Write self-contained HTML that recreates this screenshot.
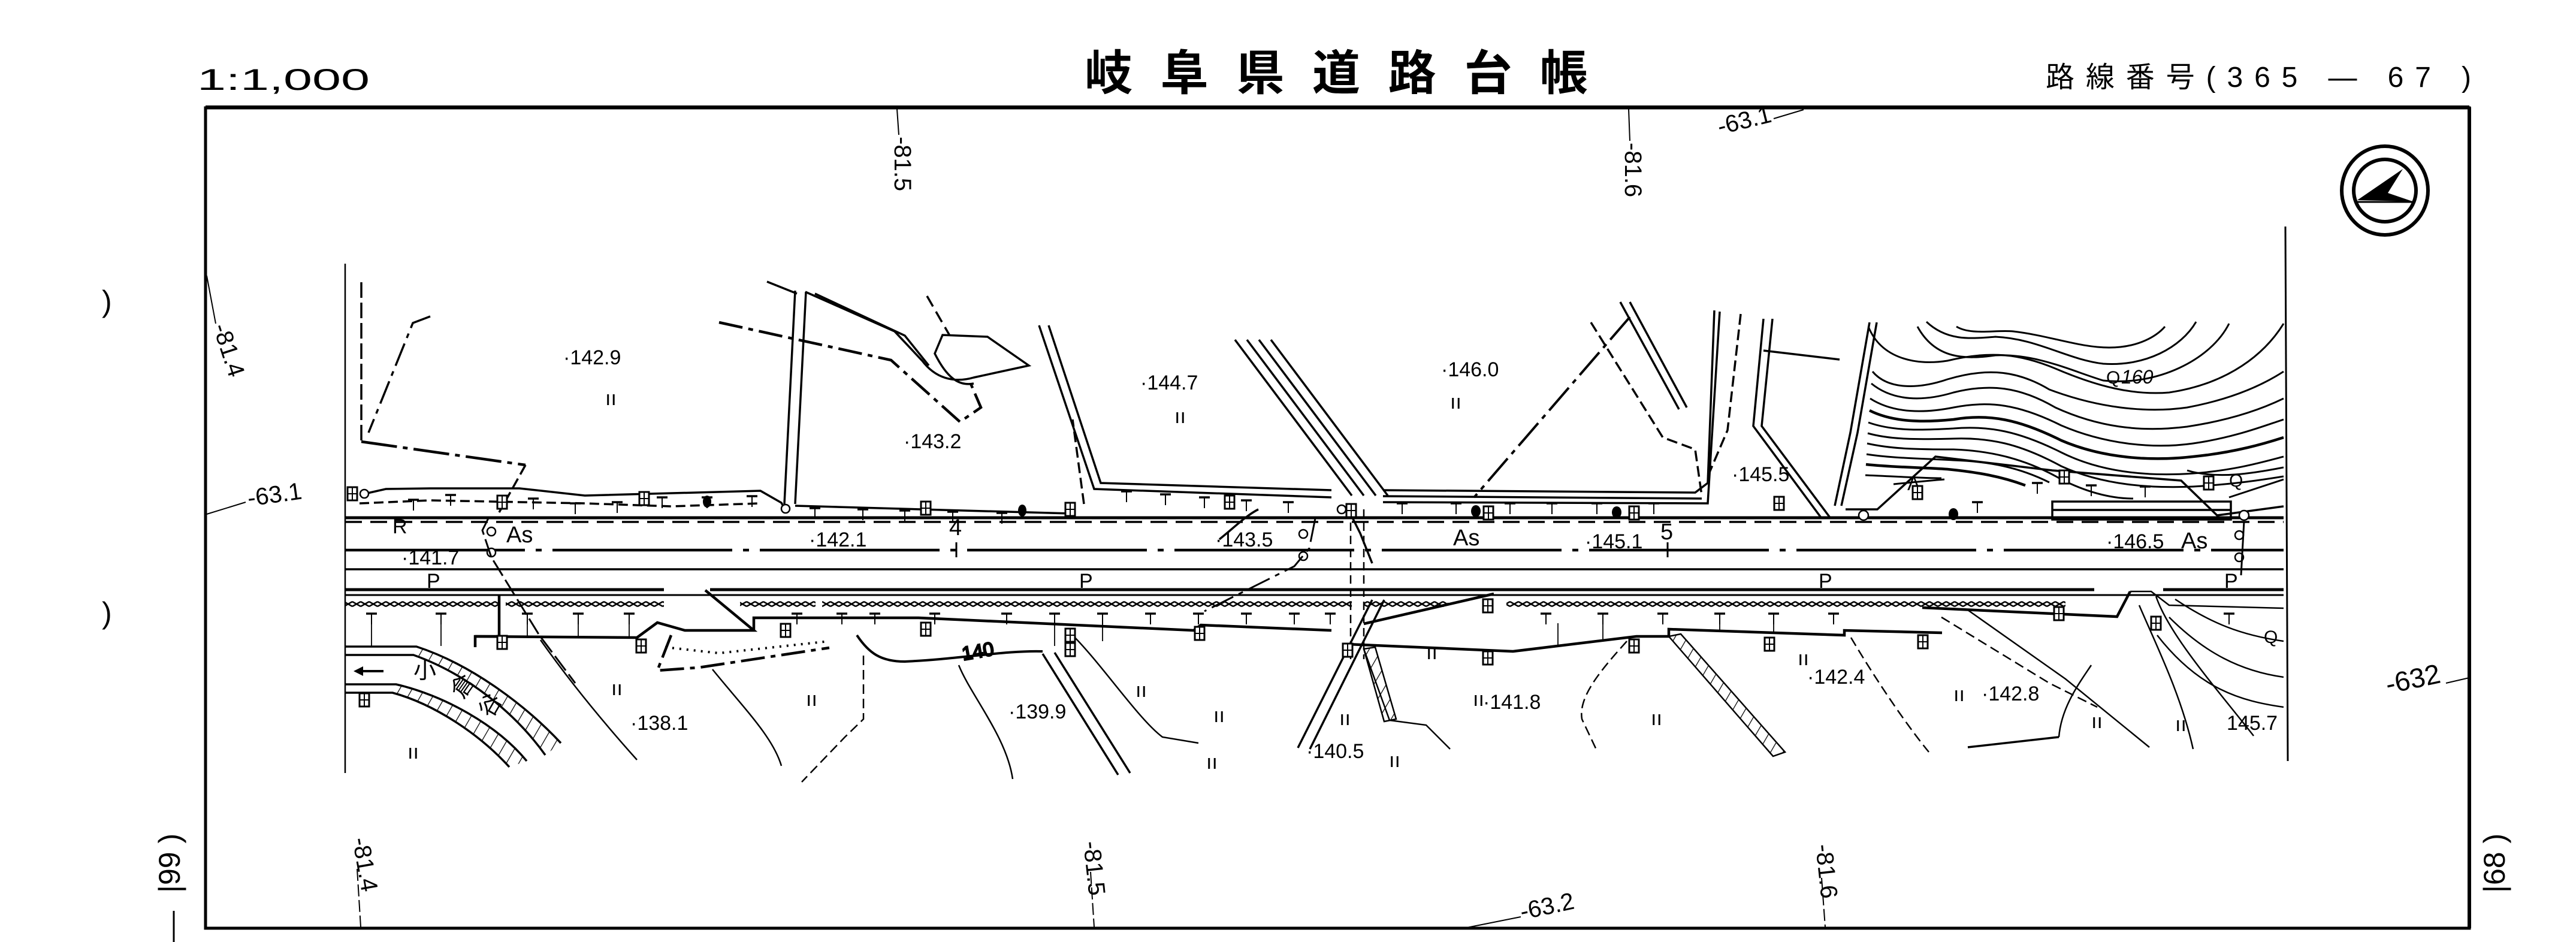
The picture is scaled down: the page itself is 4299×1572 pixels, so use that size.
<!DOCTYPE html>
<html><head><meta charset="utf-8"><style>
html,body{margin:0;padding:0;background:#fff;}
svg{display:block;}
text{font-family:"Liberation Sans","Noto Sans CJK JP",sans-serif;fill:#000;}
</style></head><body>
<svg width="4299" height="1572" viewBox="0 0 4299 1572" xmlns="http://www.w3.org/2000/svg">
<defs>
<pattern id="zz" width="14" height="28" patternUnits="userSpaceOnUse">
<path d="M0,4 L7,0 L14,4 M0,24 L7,28 L14,24" stroke="#000" stroke-width="2.5" fill="none"/>
</pattern>
<pattern id="hatch" width="18" height="18" patternUnits="userSpaceOnUse" patternTransform="rotate(30)">
<line x1="0" y1="0" x2="0" y2="18" stroke="#000" stroke-width="2.5"/>
</pattern>
<g id="bx"><rect x="-8" y="-11" width="16" height="22" fill="#fff" stroke="#000" stroke-width="3"/><line x1="0" y1="-11" x2="0" y2="11" stroke="#000" stroke-width="2"/><line x1="-8" y1="0" x2="8" y2="0" stroke="#000" stroke-width="2"/></g>
<g id="tr"><line x1="-9" y1="0" x2="9" y2="0" stroke="#000" stroke-width="3.5"/><line x1="0" y1="0" x2="0" y2="18" stroke="#000" stroke-width="2"/></g>
</defs>

<text x="329" y="150" font-size="50" textLength="288" lengthAdjust="spacingAndGlyphs">1:1,000</text>
<text x="1810" y="150" font-size="80" font-weight="bold" textLength="840" lengthAdjust="spacing">岐阜県道路台帳</text>
<text x="3414" y="145" font-size="48" textLength="710" lengthAdjust="spacing">路線番号(365 — 67 )</text>

<rect x="343" y="180" width="3778" height="1369" fill="none" stroke="#000" stroke-width="5"/>
<line x1="343" y1="179" x2="4121" y2="179" stroke="#000" stroke-width="6"/>
<line x1="4121" y1="179" x2="4121" y2="1549" stroke="#000" stroke-width="6"/>
<line x1="576" y1="440" x2="576" y2="1290" stroke="#000" stroke-width="2.5"/>
<line x1="3814" y1="378" x2="3818" y2="1270" stroke="#000" stroke-width="3"/>

<ellipse cx="3980" cy="318" rx="72" ry="74" fill="none" stroke="#000" stroke-width="6"/>
<ellipse cx="3980" cy="318" rx="52" ry="52" fill="none" stroke="#000" stroke-width="6"/>
<polygon points="4010,282 3934,334 4026,336 3985,322" fill="#000"/>
<line x1="3930" y1="337" x2="4030" y2="337" stroke="#000" stroke-width="3"/>

<text x="170" y="520" font-size="50">)</text>
<text x="170" y="1040" font-size="50">)</text>
<g transform="translate(300,1490) rotate(-90)"><text font-size="50">|99 )</text></g>
<g transform="translate(4180,1490) rotate(-90)"><text font-size="50">|68 )</text></g>
<line x1="290" y1="1520" x2="290" y2="1572" stroke="#000" stroke-width="3"/>
<line x1="1497" y1="182" x2="1500" y2="225" stroke="#000" stroke-width="2"/>
<g transform="translate(1493,228) rotate(90)"><text font-size="40">-81.5</text></g>
<line x1="2718" y1="182" x2="2720" y2="235" stroke="#000" stroke-width="2"/>
<g transform="translate(2712,238) rotate(90)"><text font-size="40">-81.6</text></g>
<line x1="3010" y1="183" x2="2960" y2="198" stroke="#000" stroke-width="2"/>
<g transform="translate(2870,225) rotate(-14)"><text font-size="40">-63.1</text></g>
<line x1="345" y1="460" x2="360" y2="540" stroke="#000" stroke-width="2"/>
<g transform="translate(355,545) rotate(72)"><text font-size="40">-81.4</text></g>
<line x1="345" y1="858" x2="410" y2="838" stroke="#000" stroke-width="2"/>
<g transform="translate(415,845) rotate(-8)"><text font-size="40">-63.1</text></g>
<g transform="translate(3985,1158) rotate(-12)"><text font-size="46">-632</text></g>
<line x1="4082" y1="1140" x2="4121" y2="1131" stroke="#000" stroke-width="2"/>
<g transform="translate(588,1400) rotate(80)"><text font-size="40">-81.4</text></g>
<line x1="596" y1="1450" x2="602" y2="1547" stroke="#000" stroke-width="2" stroke-dasharray="20,6"/>
<g transform="translate(1808,1405) rotate(84)"><text font-size="40">-81.5</text></g>
<line x1="1820" y1="1455" x2="1826" y2="1547" stroke="#000" stroke-width="2" stroke-dasharray="20,6"/>
<g transform="translate(3030,1410) rotate(84)"><text font-size="40">-81.6</text></g>
<line x1="3040" y1="1465" x2="3046" y2="1547" stroke="#000" stroke-width="2" stroke-dasharray="20,6"/>
<g transform="translate(2540,1535) rotate(-12)"><text font-size="40">-63.2</text></g>
<line x1="2443" y1="1549" x2="2538" y2="1530" stroke="#000" stroke-width="2"/>

<g stroke="#000" fill="none">
<line x1="576" y1="864" x2="3811" y2="864" stroke-width="5"/>
<line x1="576" y1="871" x2="3811" y2="871" stroke-width="3.5" stroke-dasharray="28,14"/>
<line x1="576" y1="918" x2="3811" y2="918" stroke-width="4.5" stroke-dasharray="300,18,10,18"/>
<line x1="576" y1="950" x2="3811" y2="950" stroke-width="3.5"/>
<line x1="576" y1="984" x2="1108" y2="984" stroke-width="5"/>
<line x1="1185" y1="984" x2="3495" y2="984" stroke-width="5"/>
<line x1="3610" y1="984" x2="3811" y2="984" stroke-width="5"/>
<line x1="576" y1="993" x2="3811" y2="993" stroke-width="3"/>
<line x1="1596" y1="905" x2="1596" y2="930" stroke-width="3"/>
<line x1="2783" y1="905" x2="2783" y2="930" stroke-width="3"/>
</g>
<g fill="url(#zz)" stroke="none">
<rect x="576" y="996" width="257" height="26"/>
<rect x="844" y="996" width="264" height="26"/>
<rect x="1235" y="996" width="126" height="26"/>
<rect x="1372" y="996" width="884" height="26"/>
<rect x="2276" y="996" width="141" height="26"/>
<rect x="2514" y="996" width="933" height="26"/>
</g>
<!-- post lines from hedge to wall -->
<g stroke="#000" stroke-width="1.8">
<line x1="620" y1="1040" x2="620" y2="1078"/><line x1="736" y1="1040" x2="736" y2="1078"/><line x1="880" y1="1040" x2="880" y2="1062"/><line x1="965" y1="1040" x2="965" y2="1062"/><line x1="1050" y1="1040" x2="1050" y2="1062"/>
<line x1="1405" y1="1040" x2="1405" y2="1031"/><line x1="1760" y1="1040" x2="1760" y2="1078"/><line x1="1840" y1="1040" x2="1840" y2="1070"/><line x1="2600" y1="1040" x2="2600" y2="1080"/><line x1="2675" y1="1040" x2="2675" y2="1068"/><line x1="2870" y1="1040" x2="2870" y2="1054"/><line x1="2960" y1="1040" x2="2960" y2="1056"/>
</g>

<g stroke="#000" fill="none" stroke-width="4.5">
<polyline points="833,992 833,1062 793,1062 793,1080"/>
<polyline points="793,1062 1063,1064 1097,1039 1143,1052 1258,1052 1177,985"/>
<polyline points="1258,1052 1258,1031 1533,1031 1992,1052 2004,1043 2222,1052"/>
<polyline points="2249,1075 2525,1087 2731,1062 2785,1062 2785,1050 3078,1060 3078,1052 3241,1056"/>
<polyline points="2276,1041 2493,991"/>
<polyline points="3208,1014 3533,1029 3555,987"/>
<polyline points="3555,987 3590,987 3620,1010 3811,1015" stroke-width="2.5"/>
<path d="M576,1079 L695,1079 C790,1110 880,1180 936,1240" stroke-width="3.5"/>
<path d="M576,1093 L690,1093 C780,1125 860,1190 910,1260" stroke-width="3.5"/>
<path d="M576,1142 L661,1142 C740,1160 830,1210 879,1270" stroke-width="3.5"/>
<path d="M576,1156 L655,1156 C725,1175 800,1225 850,1280" stroke-width="3.5"/>
</g>
<path d="M695,1079 C790,1110 880,1180 936,1240 L910,1260 C860,1190 780,1125 690,1093 Z" fill="url(#hatch)"/>
<path d="M661,1142 C740,1160 830,1210 879,1270 L850,1280 C800,1225 725,1175 655,1156 Z" fill="url(#hatch)"/>
<line x1="600" y1="1120" x2="640" y2="1120" stroke="#000" stroke-width="4"/>
<polygon points="590,1120 606,1112 606,1128" fill="#000"/>
<text x="690" y="1132" font-size="38">小</text>
<g transform="translate(772,1168) rotate(-55)"><text font-size="38">倉</text></g>
<g transform="translate(820,1200) rotate(-60)"><text font-size="38">谷</text></g>

<g stroke="#000" fill="none" stroke-width="2.5">
<path d="M902,1068 C960,1150 1020,1220 1063,1268"/>
<path d="M1189,1117 C1240,1180 1290,1230 1304,1278"/>
<path d="M1441,1094 L1441,1200 L1410,1230 L1338,1305" stroke-dasharray="16,8"/>
<path d="M1120,1060 L1097,1119 L1166,1114 L1384,1081" stroke-width="4.5" stroke-dasharray="40,10,8,10"/>
<path d="M1110,1080 L1200,1090 L1384,1070" stroke-dasharray="3,9" stroke-width="4"/>
<path d="M1430,1060 C1450,1090 1470,1104 1510,1104 C1600,1100 1680,1085 1740,1087" stroke-width="4"/>
<text x="1605" y="1098" font-size="32" transform="rotate(-10 1630 1086)">140</text>
<path d="M1740,1091 L1866,1293 M1760,1089 L1886,1290" stroke-width="3.5"/>
<path d="M1600,1110 C1620,1160 1680,1230 1690,1300" />
<path d="M1790,1060 C1840,1110 1900,1200 1940,1230 L2000,1240"/>
<path d="M2290,1001 L2166,1248 M2310,1001 L2186,1250" stroke-width="3.5"/>
<path d="M2254,850 L2254,1100 M2276,850 L2276,1100" stroke-dasharray="14,8"/>
<path d="M2276,1083 L2319,1202 L2380,1210 L2420,1250"/>
<path d="M2715,1070 C2670,1120 2634,1163 2640,1200 L2666,1255" stroke-dasharray="16,8"/>
<path d="M3089,1064 C3140,1150 3190,1220 3219,1255" stroke-dasharray="16,8"/>
<path d="M3284,1018 L3447,1133 L3587,1247"/>
<path d="M3240,1030 L3420,1140 L3500,1180" stroke-dasharray="16,8"/>
<path d="M3436,1230 C3440,1180 3470,1140 3490,1110"/>
<path d="M3598,995 C3620,1060 3700,1150 3761,1228"/>
<path d="M3570,1010 C3600,1080 3640,1160 3660,1250"/>
<path d="M3630,1000 C3690,1040 3740,1060 3811,1070"/>
<path d="M3620,1030 C3680,1090 3740,1120 3811,1130"/>
<path d="M3600,1060 C3670,1150 3740,1170 3811,1180"/>
<path d="M3284,1247 L3436,1230" stroke-width="3.5"/>
</g>
<path d="M2785,1062 L2805,1058 L2979,1255 L2959,1262 Z" fill="url(#hatch)" stroke="#000" stroke-width="2.5"/>
<path d="M2276,1083 L2295,1080 L2330,1200 L2310,1204 Z" fill="url(#hatch)" stroke="#000" stroke-width="2.5"/>

<g stroke="#000" fill="none" stroke-width="3.5">
<path d="M603,471 L603,737" stroke-dasharray="26,8"/>
<path d="M603,737 L877,776" stroke-width="4.5" stroke-dasharray="60,10,8,10"/>
<path d="M877,776 L833,855" stroke-dasharray="18,8"/>
<path d="M718,528 L689,539 L615,722" stroke-dasharray="40,10,8,10"/>
<polyline points="600,826 644,816 718,815 867,815 976,827 1269,819 1304,839 1309,848"/>
<path d="M600,840 L718,835 L976,840 L1120,845 L1269,840" stroke-dasharray="16,8"/>
<path d="M1327,485 L1309,841 M1345,487 L1327,841"/>
<path d="M1280,470 L1330,490 M1344,487 L1493,553 L1539,602 C1560,630 1590,640 1625,630 L1717,610 L1648,562 L1573,559 L1560,590 C1580,630 1600,645 1625,640"/>
<path d="M1360,490 L1510,560 L1550,610"/>
<path d="M1200,538 L1487,601 L1602,704 L1637,680 L1619,638" stroke-dasharray="40,10,8,10" stroke-width="4.5"/>
<path d="M1547,494 L1585,560" stroke-dasharray="20,10"/>
<path d="M1734,543 L1826,816 L2222,830 M1750,543 L1837,806 L2222,818"/>
<path d="M1809,841 L1790,700" stroke-dasharray="18,8"/>
<path d="M2061,567 L2256,827 M2081,567 L2276,827 M2101,567 L2296,827 M2121,567 L2316,827"/>
<path d="M1327,844 L1786,857"/>
<path d="M2308,818 L2829,822 L2850,806 L2861,518 M2308,828 L2840,832 M2308,838 L2850,840 L2870,520"/>
<path d="M2704,504 L2802,683 M2720,504 L2815,680"/>
<path d="M2655,538 L2775,730 L2829,750 L2840,827" stroke-dasharray="18,8"/>
<path d="M2720,529 L2460,830" stroke-dasharray="50,10,8,10" stroke-width="4"/>
<path d="M2943,532 L2926,711 L3040,865 M2958,532 L2940,711 L3055,865"/>
<path d="M3132,538 L3100,722 L3073,844 M3120,538 L3088,722 L3062,844"/>
<path d="M2905,524 L2883,718 L2850,795" stroke-dasharray="18,8"/>
<path d="M2943,585 L3070,600"/>
<path d="M3080,850 L3133,850 L3230,762 L3425,785 L3640,802 L3700,860 L3811,845"/>
<rect x="3425" y="837" width="298" height="30"/>
<line x1="3425" y1="851" x2="3723" y2="851"/>
<path d="M2035,900 C2060,880 2080,860 2100,850" />
<path d="M2290,940 L2270,890 L2255,860"/>
</g>

<g stroke="#000" fill="none" stroke-width="3">
<path d="M3265,545 C3290,560 3330,550 3360,553 C3420,560 3470,580 3520,580 C3570,580 3600,560 3613,545"/>
<path d="M3215,537 C3250,570 3290,565 3330,562 C3400,565 3450,600 3510,607 C3580,612 3640,580 3665,537"/>
<path d="M3200,545 C3230,600 3280,600 3330,593 C3400,590 3460,620 3510,635 C3600,645 3690,600 3720,540"/>
<path d="M3118,545 C3140,600 3200,610 3250,602 C3320,585 3370,590 3430,615 C3500,645 3560,660 3620,655 C3720,640 3780,590 3811,540"/>
<path d="M3125,620 C3150,650 3200,650 3250,633 C3320,612 3370,620 3420,650 C3500,680 3580,690 3650,680 C3730,665 3780,640 3811,620"/>
<path d="M3123,640 C3160,670 3210,670 3260,655 C3320,640 3370,645 3430,680 C3500,712 3570,722 3650,712 C3730,700 3780,680 3811,665"/>
<path d="M3121,665 C3160,690 3210,690 3260,680 C3320,668 3370,675 3440,710 C3510,740 3590,750 3660,740 C3730,730 3780,710 3811,700"/>
<path d="M3120,685 C3160,705 3210,705 3260,700 C3320,690 3370,700 3440,735 C3510,765 3590,770 3660,762 C3730,755 3780,740 3811,730" stroke-width="4.5"/>
<path d="M3118,705 C3160,720 3210,718 3260,715 C3320,710 3370,720 3440,755 C3510,790 3590,795 3660,790 C3730,785 3780,770 3811,762"/>
<path d="M3117,723 C3160,735 3210,733 3260,732 C3320,730 3370,740 3440,778 C3510,810 3590,815 3660,812 C3730,808 3780,800 3811,795"/>
<path d="M3116,740 C3160,750 3210,750 3260,750 C3320,752 3380,765 3440,800 C3490,825 3530,832 3560,832"/>
<path d="M3115,758 C3160,765 3210,765 3260,768 C3320,770 3370,780 3420,805"/>
<path d="M3114,775 C3160,780 3210,780 3250,783 C3300,788 3340,795 3380,810" stroke-width="4.5"/>
<path d="M3113,793 C3160,795 3210,798 3240,798"/>
<path d="M3160,808 C3190,805 3220,802 3245,800"/>
<path d="M3720,830 C3750,820 3780,810 3811,800"/>
<path d="M3650,785 C3700,800 3760,790 3811,780"/>
</g>
<text x="3540" y="640" font-size="32" font-style="italic">160</text>
<text x="3515" y="640" font-size="30">Q</text>
<text x="3720" y="812" font-size="30">Q</text>
<text x="3778" y="1073" font-size="30">Q</text>
<text x="3183" y="818" font-size="32">Λ</text>

<g>
<use href="#bx" x="588" y="824"/><use href="#bx" x="838" y="838"/><use href="#bx" x="1075" y="832"/>
<use href="#bx" x="1545" y="848"/><use href="#bx" x="1786" y="850"/><use href="#bx" x="2052" y="838"/>
<use href="#bx" x="2255" y="852"/><use href="#bx" x="2484" y="856"/><use href="#bx" x="2727" y="856"/>
<use href="#bx" x="2969" y="840"/><use href="#bx" x="3200" y="822"/><use href="#bx" x="3445" y="796"/>
<use href="#bx" x="3686" y="806"/>
<use href="#bx" x="838" y="1072"/><use href="#bx" x="1070" y="1078"/><use href="#bx" x="1311" y="1052"/>
<use href="#bx" x="1545" y="1050"/><use href="#bx" x="1786" y="1084"/><use href="#bx" x="1786" y="1060"/>
<use href="#bx" x="2002" y="1057"/><use href="#bx" x="2249" y="1085"/><use href="#bx" x="2483" y="1098"/>
<use href="#bx" x="2727" y="1078"/><use href="#bx" x="2953" y="1075"/><use href="#bx" x="3209" y="1071"/>
<use href="#bx" x="3436" y="1024"/><use href="#bx" x="3598" y="1040"/><use href="#bx" x="2483" y="1011"/>
<use href="#bx" x="608" y="1168"/>
</g>
<g>
<use href="#tr" x="690" y="834"/><use href="#tr" x="752" y="826"/><use href="#tr" x="890" y="832"/><use href="#tr" x="960" y="840"/>
<use href="#tr" x="1030" y="838"/><use href="#tr" x="1105" y="830"/><use href="#tr" x="1180" y="830"/><use href="#tr" x="1255" y="828"/>
<use href="#tr" x="1360" y="848"/><use href="#tr" x="1440" y="850"/><use href="#tr" x="1510" y="852"/><use href="#tr" x="1590" y="854"/><use href="#tr" x="1672" y="856"/>
<use href="#tr" x="1880" y="820"/><use href="#tr" x="1945" y="825"/><use href="#tr" x="2010" y="830"/><use href="#tr" x="2080" y="835"/><use href="#tr" x="2150" y="838"/>
<use href="#tr" x="2340" y="840"/><use href="#tr" x="2430" y="840"/><use href="#tr" x="2520" y="840"/><use href="#tr" x="2590" y="840"/><use href="#tr" x="2665" y="840"/><use href="#tr" x="2760" y="840"/>
<use href="#tr" x="3300" y="838"/><use href="#tr" x="3400" y="806"/><use href="#tr" x="3490" y="810"/><use href="#tr" x="3580" y="812"/>
<use href="#tr" x="620" y="1024"/><use href="#tr" x="736" y="1024"/><use href="#tr" x="880" y="1024"/><use href="#tr" x="965" y="1024"/><use href="#tr" x="1050" y="1024"/>
<use href="#tr" x="1330" y="1024"/><use href="#tr" x="1405" y="1024"/><use href="#tr" x="1460" y="1024"/><use href="#tr" x="1560" y="1024"/><use href="#tr" x="1680" y="1024"/><use href="#tr" x="1760" y="1024"/><use href="#tr" x="1840" y="1024"/><use href="#tr" x="1920" y="1024"/><use href="#tr" x="2000" y="1024"/><use href="#tr" x="2080" y="1024"/><use href="#tr" x="2160" y="1024"/><use href="#tr" x="2220" y="1024"/>
<use href="#tr" x="2580" y="1024"/><use href="#tr" x="2675" y="1024"/><use href="#tr" x="2775" y="1024"/><use href="#tr" x="2870" y="1024"/><use href="#tr" x="2960" y="1024"/><use href="#tr" x="3060" y="1024"/>
<use href="#tr" x="3720" y="1024"/>
</g>
<g fill="#000">
<ellipse cx="1180" cy="837" rx="7" ry="10"/><ellipse cx="1706" cy="852" rx="7" ry="10"/>
<ellipse cx="2463" cy="853" rx="8" ry="10"/><ellipse cx="2698" cy="855" rx="8" ry="10"/><ellipse cx="3260" cy="858" rx="8" ry="10"/>
</g>
<g fill="#fff" stroke="#000" stroke-width="2.5">
<circle cx="608" cy="824" r="7"/><circle cx="1311" cy="849" r="7"/><circle cx="2239" cy="850" r="7"/><circle cx="3110" cy="860" r="8"/><circle cx="3745" cy="860" r="8"/>
<circle cx="820" cy="887" r="7"/><circle cx="820" cy="922" r="7"/><circle cx="2175" cy="891" r="7"/><circle cx="2175" cy="928" r="7"/><circle cx="3737" cy="893" r="7"/><circle cx="3737" cy="930" r="7"/>
</g>
<g stroke="#000" stroke-width="3" fill="none">
<path d="M815,865 L805,885 L820,930 L900,1060 L960,1140" stroke-dasharray="30,8"/>
<path d="M2195,865 L2185,915 L2160,945 L2050,1000 L2010,1020" stroke-dasharray="40,10,8,10"/>
<path d="M3745,870 L3740,960"/>
</g>

<g font-size="34">
<text x="940" y="608">·142.9</text><text x="1010" y="676">ıı</text>
<text x="1508" y="748">·143.2</text>
<text x="1903" y="650">·144.7</text><text x="1960" y="706">ıı</text>
<text x="2405" y="628">·146.0</text><text x="2420" y="682">ıı</text>
<text x="2890" y="803">·145.5</text>
<text x="655" y="890">R</text>
<text x="845" y="905" font-size="38">As</text>
<text x="1350" y="912">·142.1</text>
<text x="1584" y="893" font-size="38">4</text>
<text x="2028" y="912">·143.5</text>
<text x="2425" y="910" font-size="38">As</text>
<text x="2645" y="915">·145.1</text>
<text x="2771" y="900" font-size="38">5</text>
<text x="3515" y="915">·146.5</text>
<text x="3640" y="915" font-size="38">As</text>
<text x="670" y="942">·141.7</text>
<text x="712" y="981">P</text><text x="1801" y="981">P</text><text x="3035" y="981">P</text><text x="3712" y="981">P</text>
<text x="1052" y="1218">·138.1</text>
<text x="1683" y="1199">·139.9</text>
<text x="2180" y="1265">·140.5</text>
<text x="2475" y="1183">·141.8</text>
<text x="3016" y="1141">·142.4</text>
<text x="3307" y="1169">·142.8</text>
<text x="3716" y="1218">145.7</text>
<text x="1020" y="1160">ıı</text><text x="680" y="1266">ıı</text><text x="1345" y="1178">ıı</text>
<text x="1895" y="1163">ıı</text><text x="2025" y="1205">ıı</text><text x="2013" y="1283">ıı</text>
<text x="2235" y="1210">ıı</text><text x="2318" y="1280">ıı</text><text x="2458" y="1178">ıı</text>
<text x="2755" y="1210">ıı</text><text x="3000" y="1110">ıı</text><text x="3260" y="1170">ıı</text>
<text x="3630" y="1220">ıı</text><text x="3490" y="1215">ıı</text><text x="2380" y="1100">ıı</text>
</g>
</svg>
</body></html>
